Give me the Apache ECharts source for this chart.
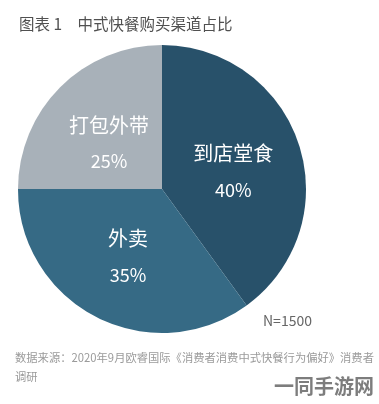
<!DOCTYPE html>
<html><head><meta charset="utf-8">
<script src="https://cdn.jsdelivr.net/npm/echarts@6/dist/echarts.min.js"></script>
<style>html,body{margin:0;padding:0;background:#fff}#c{width:379px;height:404px}</style>
</head><body><div id="c"></div>
<script>
const categories = ['到店堂食', '外卖', '打包外带'];
const values = [40, 35, 25];
const colors = ['#28516a', '#366a85', '#a8b1b9'];
const titleText = '图表 1　中式快餐购买渠道占比';
const noteText = 'N=1500';
const sourceText = '数据来源：2020年9月欧睿国际《消费者消费中式快餐行为偏好》消费者\n调研';
const watermark = '一同手游网';

const FONT = '"Noto Sans CJK SC", "Noto Sans", sans-serif';
const labelOffsets = [[0, 6], [0, 1], [0, 7]];
const chart = echarts.init(document.getElementById('c'));
chart.setOption({
  animation: false,
  backgroundColor: '#fff',
  title: {
    text: titleText, left: 14, top: 11,
    textStyle: { fontFamily: FONT, fontSize: 15.5, fontWeight: 'normal', color: '#505050' }
  },
  series: [{
    type: 'pie',
    center: [162, 189],
    radius: [0, 144],
    startAngle: 90,
    clockwise: true,
    label: {
      show: true, position: 'inside',
      formatter: '{n|{b}}\n{p|{d}%}',
      rich: {
        n: { fontFamily: FONT, fontSize: 20, color: '#fff', lineHeight: 36 },
        p: { fontFamily: FONT, fontSize: 18, color: '#fff', lineHeight: 36 }
      }
    },
    labelLine: { show: false },
    itemStyle: { borderWidth: 0 },
    emphasis: { disabled: true },
    data: categories.map((c, i) => ({
      name: c, value: values[i],
      itemStyle: { color: colors[i] },
      label: { offset: labelOffsets[i] }
    }))
  }],
  graphic: [
    { type: 'text', left: 263, top: 314, style: { text: noteText, font: '14px ' + FONT, fill: '#666' } },
    { type: 'text', left: 15, top: 348, style: { text: sourceText, font: '11.3px ' + FONT, fill: '#9a9a9a', lineHeight: 19 } },
    { type: 'text', right: 5, top: 376, style: { text: watermark, font: 'bold 20px ' + FONT, fill: '#7d7d7d' } }
  ]
});
</script></body></html>
